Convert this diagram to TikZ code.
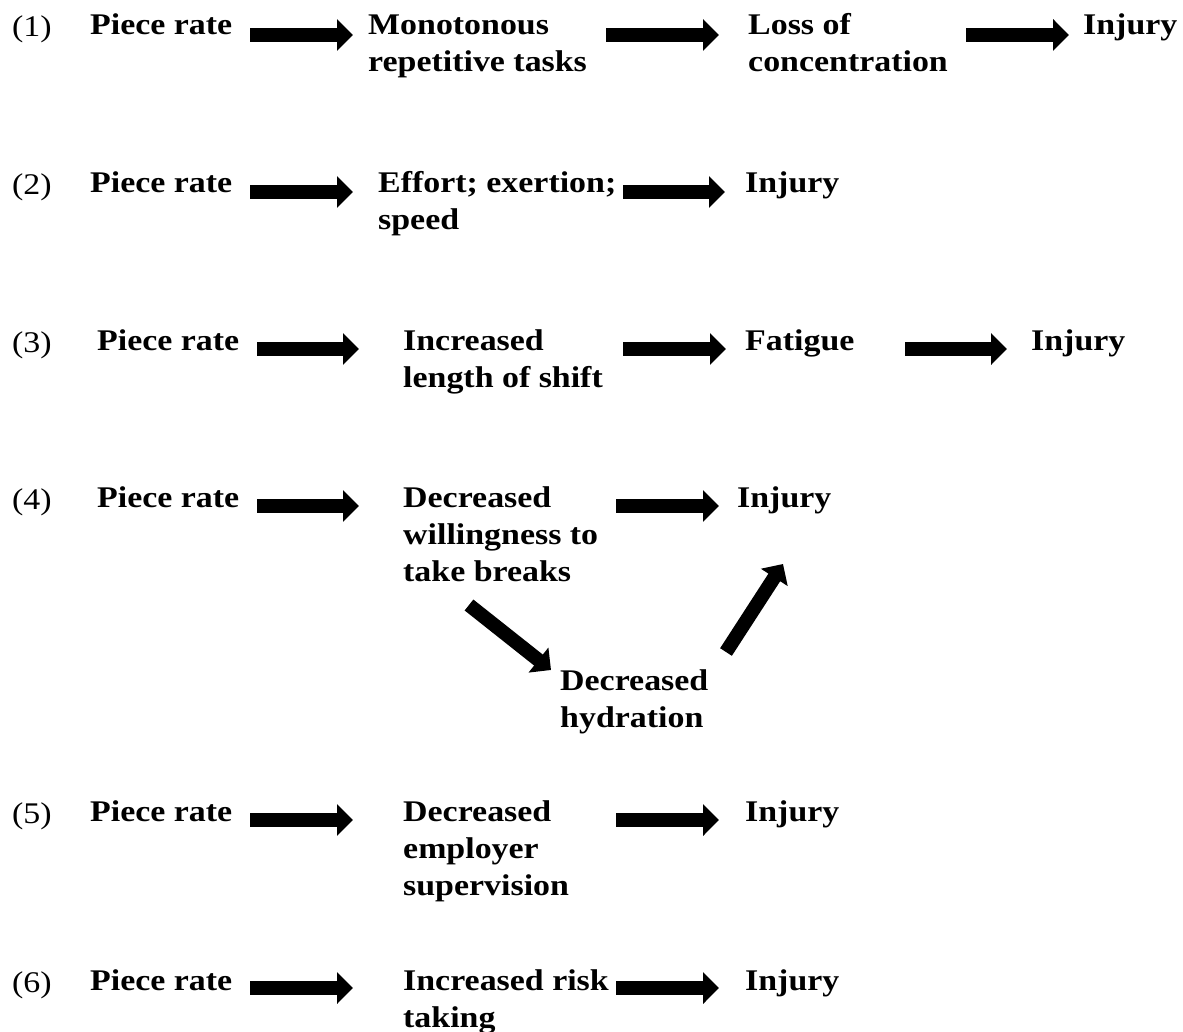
\documentclass[tikz,border=0pt]{standalone}
\usepackage{fontspec}
\setmainfont{Liberation Serif}[FakeStretch=1.13]
\usetikzlibrary{arrows.meta}
\newcommand{\mlines}[1]{\begin{tabular}[t]{@{}l@{}}#1\end{tabular}}
\tikzset{
  lbl/.style={anchor=base west, inner sep=0pt, font=\fontsize{30}{37}\selectfont\bfseries},
  num/.style={anchor=base west, inner sep=0pt, font=\fontsize{30}{37}\selectfont},
  arr/.style={line width=14pt, -{Triangle[length=16pt 0 0, width=31pt 0 0]}, black}
}
\begin{document}
\begin{tikzpicture}[x=1pt,y=-1pt]
\useasboundingbox (0,0) rectangle (1183,1032);
% Row 1
\node[num] (n1) at (12,37) {(1)};
\node[lbl] (r1a) at (90,35) {Piece rate};
\node[lbl] (r1b) at (368,35) {\mlines{Monotonous\\repetitive tasks}};
\node[lbl] (r1c) at (748,35) {\mlines{Loss of\\concentration}};
\node[lbl] (r1d) at (1083,35) {Injury};
\coordinate (a1s) at (250,35); \coordinate (a1e) at (353,35);
\coordinate (a2s) at (606,35); \coordinate (a2e) at (719,35);
\coordinate (a3s) at (966,35); \coordinate (a3e) at (1069,35);
\draw[arr] (a1s) -- (a1e);
\draw[arr] (a2s) -- (a2e);
\draw[arr] (a3s) -- (a3e);
% Row 2
\node[num] (n2) at (12,195) {(2)};
\node[lbl] (r2a) at (90,193) {Piece rate};
\node[lbl] (r2b) at (378,193) {\mlines{Effort; exertion;\\speed}};
\node[lbl] (r2c) at (745,193) {Injury};
\coordinate (b1s) at (250,192); \coordinate (b1e) at (353,192);
\coordinate (b2s) at (623,192); \coordinate (b2e) at (725,192);
\draw[arr] (b1s) -- (b1e);
\draw[arr] (b2s) -- (b2e);
% Row 3
\node[num] (n3) at (12,352) {(3)};
\node[lbl] (r3a) at (97,350) {Piece rate};
\node[lbl] (r3b) at (403,350) {\mlines{Increased\\length of shift}};
\node[lbl] (r3c) at (745,350) {Fatigue};
\node[lbl] (r3d) at (1031,350) {Injury};
\coordinate (c1s) at (257,349); \coordinate (c1e) at (359,349);
\coordinate (c2s) at (623,349); \coordinate (c2e) at (726,349);
\coordinate (c3s) at (905,349); \coordinate (c3e) at (1007,349);
\draw[arr] (c1s) -- (c1e);
\draw[arr] (c2s) -- (c2e);
\draw[arr] (c3s) -- (c3e);
% Row 4
\node[num] (n4) at (12,509) {(4)};
\node[lbl] (r4a) at (97,507) {Piece rate};
\node[lbl] (r4b) at (403,507) {\mlines{Decreased\\willingness to\\take breaks}};
\node[lbl] (r4c) at (737,507) {Injury};
\node[lbl] (r4d) at (560,690) {\mlines{Decreased\\hydration}};
\coordinate (d1s) at (257,506); \coordinate (d1e) at (359,506);
\coordinate (d2s) at (616,506); \coordinate (d2e) at (719,506);
\coordinate (d3s) at (469,605); \coordinate (d3e) at (551,670);
\coordinate (d4s) at (726,652); \coordinate (d4e) at (783,564);
\draw[arr] (d1s) -- (d1e);
\draw[arr] (d2s) -- (d2e);
\draw[arr] (d3s) -- (d3e);
\draw[arr] (d4s) -- (d4e);
% Row 5
\node[num] (n5) at (12,823) {(5)};
\node[lbl] (r5a) at (90,821) {Piece rate};
\node[lbl] (r5b) at (403,821) {\mlines{Decreased\\employer\\supervision}};
\node[lbl] (r5c) at (745,821) {Injury};
\coordinate (e1s) at (250,820); \coordinate (e1e) at (353,820);
\coordinate (e2s) at (616,820); \coordinate (e2e) at (719,820);
\draw[arr] (e1s) -- (e1e);
\draw[arr] (e2s) -- (e2e);
% Row 6
\node[num] (n6) at (12,992) {(6)};
\node[lbl] (r6a) at (90,990) {Piece rate};
\node[lbl] (r6b) at (403,990) {\mlines{Increased risk\\taking}};
\node[lbl] (r6c) at (745,990) {Injury};
\coordinate (f1s) at (250,988); \coordinate (f1e) at (353,988);
\coordinate (f2s) at (616,988); \coordinate (f2e) at (719,988);
\draw[arr] (f1s) -- (f1e);
\draw[arr] (f2s) -- (f2e);
\end{tikzpicture}
\end{document}
